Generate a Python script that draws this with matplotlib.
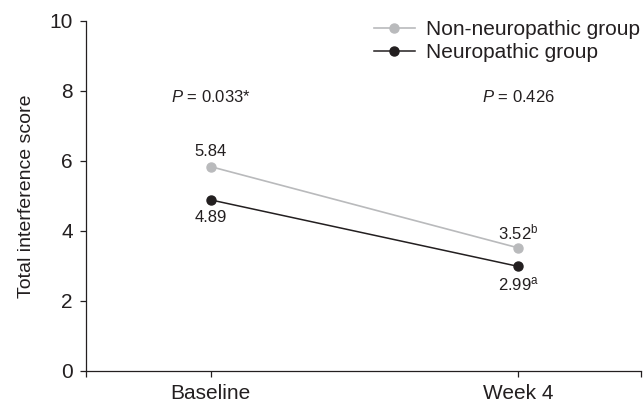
import matplotlib
matplotlib.use('Agg')
import matplotlib.pyplot as plt

plt.rcParams['font.family'] = ['Liberation Sans', 'DejaVu Sans']
plt.rcParams['mathtext.fontset'] = 'custom'
plt.rcParams['mathtext.rm'] = 'Liberation Sans'
plt.rcParams['mathtext.it'] = 'Liberation Sans:italic'

# data
timepoints = ['Baseline', 'Week 4']
non_neuro = [5.84, 3.52]
neuro = [4.89, 2.99]
non_neuro_labels = ['5.84', r'3.52$^{\mathrm{b}}$']
neuro_labels = ['4.89', r'2.99$^{\mathrm{a}}$']
p_labels = [r'$\mathit{P}$ = 0.033*', r'$\mathit{P}$ = 0.426']
p_y = 7.83

dark = '#231f20'
grey = '#b9babc'

fig = plt.figure(figsize=(6.44, 4.04), dpi=100)
ax = fig.add_axes([86/644, 33/404, 555/644, 350/404])

x = list(range(len(timepoints)))
ax.plot(x, non_neuro, color=grey, lw=1.2, marker='o', ms=6.5,
        label='Non-neuropathic group', zorder=3)
ax.plot(x, neuro, color=dark, lw=1.1, marker='o', ms=6.5,
        label='Neuropathic group', zorder=4)

for i in x:
    ax.annotate(non_neuro_labels[i], (i, non_neuro[i]), xytext=(0, 11),
                textcoords='offset points', ha='center', va='center',
                fontsize=12, color=dark)
    ax.annotate(neuro_labels[i], (i, neuro[i]), xytext=(0, -13),
                textcoords='offset points', ha='center', va='center',
                fontsize=12, color=dark)
    ax.text(i, p_y, p_labels[i], ha='center', va='center', fontsize=12, color=dark)

ax.set_xlim(-0.405, 1.4)
ax.set_ylim(0, 10)
ax.set_xticks([-0.405, 0, 1, 1.4])
ax.set_xticklabels(['', 'Baseline', 'Week 4', ''])
ax.set_yticks([0, 2, 4, 6, 8, 10])

for s in ['top', 'right']:
    ax.spines[s].set_visible(False)
for s in ['left', 'bottom']:
    ax.spines[s].set_color(dark)
    ax.spines[s].set_linewidth(0.9)
ax.tick_params(direction='out', length=4.5, width=0.9, color=dark,
               labelsize=15, labelcolor=dark, pad=5)

ax.set_ylabel('Total interference score', fontsize=14, color=dark)
ax.yaxis.set_label_coords(-0.092, 0.5)

leg = ax.legend(loc='upper right', bbox_to_anchor=(640/644, 1 - 20/404),
                bbox_transform=fig.transFigure, frameon=False, fontsize=15,
                handlelength=1.95, handletextpad=0.55, labelspacing=0.2,
                borderaxespad=0, borderpad=0)
for t in leg.get_texts():
    t.set_color(dark)

plt.savefig('out.png', dpi=100)
